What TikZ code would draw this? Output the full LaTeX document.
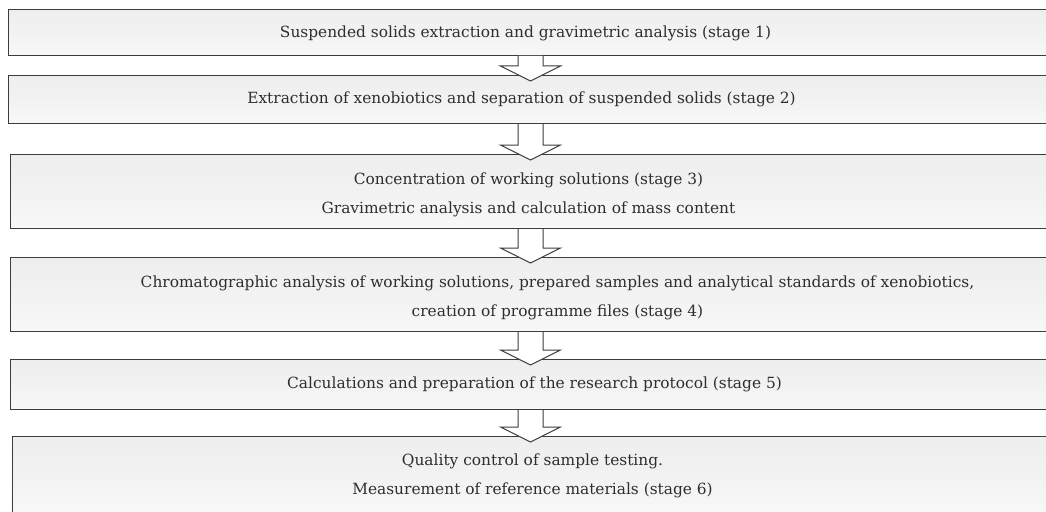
\documentclass[tikz,border=0pt]{standalone}
\usepackage{fontspec}
\setmainfont{DejaVu Serif}
\usetikzlibrary{calc}
\definecolor{boxline}{HTML}{3C3C3C}
\definecolor{boxtop}{HTML}{EEEEEE}
\definecolor{boxbot}{HTML}{F8F8F8}
\definecolor{txt}{HTML}{2E2E2E}
\tikzset{
  stagebox/.style={rectangle, draw=boxline, line width=1pt,
    top color=boxtop, bottom color=boxbot, middle color=boxtop!60!boxbot,
    anchor=north west, inner sep=0pt},
  stagetext/.style={inner sep=0pt, align=center, text=txt,
    font=\fontsize{15.4}{29}\selectfont},
  blockarr/.style={draw=boxline, line width=1pt, fill=white, line join=miter}
}
% block arrow from the bottom of #1 into the top of #2
\newcommand\flowarrow[2]{%
  \draw[blockarr]
    ([xshift=-12.5pt]#1.south -| ax) --
    ([xshift=-12.5pt,yshift=9pt]#2.north -| ax) --
    ([xshift=-30pt,yshift=9pt]#2.north -| ax) --
    ([yshift=-6pt]#2.north -| ax) --
    ([xshift=30pt,yshift=9pt]#2.north -| ax) --
    ([xshift=12.5pt,yshift=9pt]#2.north -| ax) --
    ([xshift=12.5pt]#1.south -| ax);}
\begin{document}
\begin{tikzpicture}[x=1pt,y=-1pt]
\useasboundingbox (0,0) rectangle (1046,511);
\clip (0,0) rectangle (1046,511);
\coordinate (ax) at (530.5,0);
% stage boxes (they run on past the right edge)
\node[stagebox, minimum width=1044pt, minimum height=46pt] (b1) at (8,9) {};
\node[stagebox, minimum width=1044pt, minimum height=48pt] (b2) at (8,75) {};
\node[stagebox, minimum width=1042pt, minimum height=74pt] (b3) at (10,154) {};
\node[stagebox, minimum width=1042pt, minimum height=74pt] (b4) at (10,257) {};
\node[stagebox, minimum width=1042pt, minimum height=50pt] (b5) at (10,359) {};
\node[stagebox, minimum width=1040pt, minimum height=77pt] (b6) at (12,436) {};
% stage texts
\node[stagetext] (t1) at ([xshift=-5pt,yshift=-1pt]b1.center)
  {Suspended solids extraction and gravimetric analysis (stage 1)};
\node[stagetext] (t2) at ([xshift=-9pt]b2.center)
  {Extraction of xenobiotics and separation of suspended solids (stage 2)};
\node[stagetext] (t3) at ([xshift=-3pt,yshift=-3pt]b3.center)
  {Concentration of working solutions (stage 3)\\
   Gravimetric analysis and calculation of mass content};
\node[stagetext] (t4) at ([xshift=26pt,yshift=-3.5pt]b4.center)
  {Chromatographic analysis of working solutions, prepared samples and analytical standards of xenobiotics,\\
   creation of programme files (stage 4)};
\node[stagetext] (t5) at ([xshift=3pt]b5.center)
  {Calculations and preparation of the research protocol (stage 5)};
\node[stagetext] (t6) at ([yshift=-0.5pt]b6.center)
  {Quality control of sample testing.\\
   Measurement of reference materials (stage 6)};
% connecting block arrows
\flowarrow{b1}{b2}
\flowarrow{b2}{b3}
\flowarrow{b3}{b4}
\flowarrow{b4}{b5}
\flowarrow{b5}{b6}
\end{tikzpicture}
\end{document}
